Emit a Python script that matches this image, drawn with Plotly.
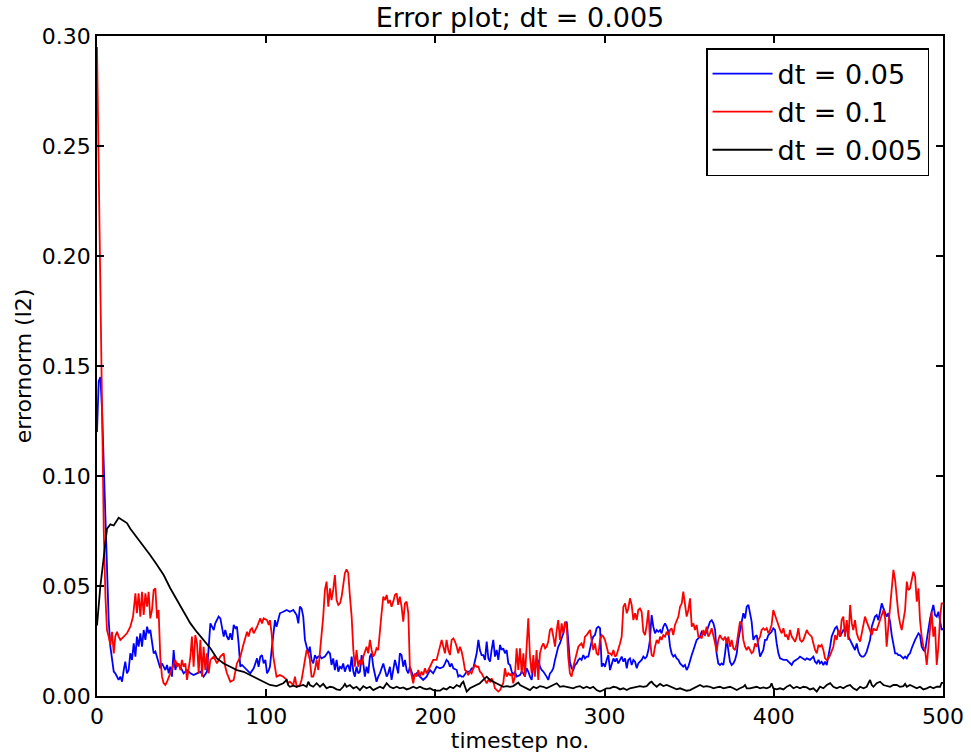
import plotly.graph_objects as go

# ---- data: [timestep, errornorm] ----
blue_pts = [
    (0, 0.120), (1, 0.143), (2, 0.145), (3, 0.130), (4, 0.105), (5, 0.080), (6, 0.052),
    (6.9, 0.0345), (7.9, 0.0224), (8.9, 0.0164), (9.9, 0.0111), (10.8, 0.0103), (11.8, 0.0088),
    (12.8, 0.0073), (13.8, 0.0088), (14.8, 0.0065), (15.8, 0.0118), (16.7, 0.0156), (17.7, 0.0103),
    (18.7, 0.0118), (19.7, 0.0194), (20.7, 0.0164), (21.7, 0.0239), (22.7, 0.0179), (23.6, 0.0270),
    (24.6, 0.0224), (25.6, 0.0285), (26.6, 0.0224), (27.6, 0.0300), (28.6, 0.0255), (29.6, 0.0315),
    (30.5, 0.0285), (31.5, 0.0300), (32.5, 0.0255), (33.5, 0.0194), (34.5, 0.0202), (35.5, 0.0179),
    (36.4, 0.0148), (37.4, 0.0126), (38.4, 0.0148), (39.4, 0.0133), (40.4, 0.0118), (41.4, 0.0141),
    (42.4, 0.0103), (43.3, 0.0133), (44.3, 0.0088), (45.3, 0.0209), (46.3, 0.0118), (47.3, 0.0148),
    (49.3, 0.0133), (51.2, 0.0103), (53.2, 0.0118), (55.2, 0.0103), (57.1, 0.0095), (59.1, 0.0103),
    (61.1, 0.0111), (63.0, 0.0088), (65.0, 0.0111), (67.0, 0.0330), (68.0, 0.0315), (69.0, 0.0300),
    (69.9, 0.0330), (70.9, 0.0345), (71.9, 0.0361), (72.9, 0.0353), (73.9, 0.0300), (74.9, 0.0270),
    (75.8, 0.0300), (76.8, 0.0270), (77.8, 0.0255), (78.8, 0.0285), (79.8, 0.0255), (80.8, 0.0323),
    (81.8, 0.0308), (82.7, 0.0315), (83.7, 0.0239), (84.7, 0.0133), (85.7, 0.0141), (86.7, 0.0133),
    (88.7, 0.0118), (90.6, 0.0103), (92.6, 0.0126), (93.6, 0.0148), (94.6, 0.0171), (95.5, 0.0133),
    (96.5, 0.0179), (97.5, 0.0186), (98.5, 0.0148), (99.5, 0.0164), (100.5, 0.0103), (101.5, 0.0118),
    (102.2, 0.0133), (103.2, 0.0209), (104.2, 0.0285), (105.2, 0.0345), (106.1, 0.0315), (108.1, 0.0376),
    (110.1, 0.0383), (112.1, 0.0391), (114.0, 0.0383), (116.0, 0.0391), (118.0, 0.0368), (119.0, 0.0330),
    (119.9, 0.0406), (120.9, 0.0398), (121.9, 0.0361), (122.9, 0.0255), (123.9, 0.0224), (124.9, 0.0194),
    (125.8, 0.0224), (126.8, 0.0164), (127.8, 0.0148), (128.8, 0.0186), (129.8, 0.0171), (130.8, 0.0179),
    (131.8, 0.0182), (132.7, 0.0171), (134.7, 0.0179), (136.7, 0.0202), (137.7, 0.0194), (138.6, 0.0141),
    (139.6, 0.0171), (140.6, 0.0118), (141.6, 0.0164), (142.6, 0.0111), (143.6, 0.0133), (144.6, 0.0126),
    (145.5, 0.0148), (146.5, 0.0111), (147.5, 0.0133), (148.5, 0.0141), (149.5, 0.0111), (150.5, 0.0179),
    (151.5, 0.0111), (152.4, 0.0088), (153.4, 0.0133), (154.4, 0.0103), (155.4, 0.0111), (156.4, 0.0186),
    (157.4, 0.0148), (158.3, 0.0088), (159.3, 0.0133), (160.3, 0.0103), (161.3, 0.0179), (162.3, 0.0194),
    (163.3, 0.0133), (164.3, 0.0088), (165.2, 0.0065), (166.2, 0.0088), (167.2, 0.0103), (169.2, 0.0148),
    (170.2, 0.0118), (171.2, 0.0088), (172.1, 0.0103), (173.1, 0.0133), (174.1, 0.0073), (175.1, 0.0111),
    (176.1, 0.0164), (177.1, 0.0133), (178.0, 0.0103), (179.0, 0.0194), (180.0, 0.0186), (181.0, 0.0133),
    (182.0, 0.0164), (183.0, 0.0118), (184.0, 0.0103), (184.9, 0.0133), (186.9, 0.0088), (188.9, 0.0103),
    (190.9, 0.0088), (192.8, 0.0073), (194.8, 0.0088), (196.8, 0.0118), (198.7, 0.0103), (200.7, 0.0133),
    (202.7, 0.0126), (204.7, 0.0133), (205.7, 0.0148), (206.6, 0.0164), (207.6, 0.0156), (208.6, 0.0133),
    (209.6, 0.0148), (210.6, 0.0126), (212.6, 0.0118), (213.5, 0.0088), (214.5, 0.0095), (215.5, 0.0088),
    (216.5, 0.0088), (217.5, 0.0103), (218.5, 0.0111), (220.4, 0.0111), (221.4, 0.0126), (222.4, 0.0126),
    (223.4, 0.0164), (224.4, 0.0194), (225.4, 0.0255), (226.3, 0.0209), (227.3, 0.0186), (228.3, 0.0186),
    (229.3, 0.0164), (230.3, 0.0247), (231.3, 0.0171), (232.3, 0.0156), (233.2, 0.0209), (234.2, 0.0255),
    (235.2, 0.0179), (236.2, 0.0209), (237.2, 0.0164), (238.2, 0.0232), (239.2, 0.0209), (240.1, 0.0217),
    (241.1, 0.0194), (242.1, 0.0209), (243.1, 0.0148), (244.1, 0.0141), (245.1, 0.0111), (246.0, 0.0095),
    (247.0, 0.0111), (248.0, 0.0088), (250.0, 0.0095), (251.0, 0.0111), (252.0, 0.0103), (252.9, 0.0088),
    (253.9, 0.0126), (254.9, 0.0111), (255.9, 0.0088), (256.9, 0.0073), (257.9, 0.0141), (258.8, 0.0118),
    (259.8, 0.0148), (260.8, 0.0164), (261.8, 0.0133), (262.8, 0.0118), (263.8, 0.0111), (264.8, 0.0095),
    (265.7, 0.0088), (266.7, 0.0073), (267.7, 0.0103), (268.7, 0.0111), (269.7, 0.0126), (270.7, 0.0164),
    (271.7, 0.0194), (272.6, 0.0224), (273.6, 0.0239), (274.6, 0.0262), (275.6, 0.0285), (276.6, 0.0323),
    (277.6, 0.0338), (278.5, 0.0255), (279.5, 0.0156), (280.5, 0.0126), (281.5, 0.0118), (282.5, 0.0141),
    (283.5, 0.0148), (284.5, 0.0164), (285.4, 0.0171), (286.4, 0.0164), (287.4, 0.0186), (288.4, 0.0171),
    (289.4, 0.0179), (290.4, 0.0179), (291.4, 0.0224), (292.3, 0.0247), (293.3, 0.0270), (294.3, 0.0277),
    (295.3, 0.0308), (296.3, 0.0315), (297.3, 0.0308), (298.3, 0.0133), (299.2, 0.0148), (300.2, 0.0133),
    (301.2, 0.0164), (302.2, 0.0186),
    (303.2, 0.0118), (304.2, 0.0148), (305.2, 0.0171), (306.2, 0.0156), (307.1, 0.0171), (308.1, 0.0148),
    (309.1, 0.0164), (310.1, 0.0179), (311.1, 0.0156), (312.1, 0.0171), (313.1, 0.0126), (314.0, 0.0164),
    (315.0, 0.0171), (316.0, 0.0141), (317.0, 0.0164), (318.0, 0.0156), (319.0, 0.0126), (319.9, 0.0148),
    (320.9, 0.0156), (321.9, 0.0164), (322.9, 0.0179), (323.9, 0.0171), (324.9, 0.0179), (325.9, 0.0209),
    (326.8, 0.0255), (327.8, 0.0368), (328.8, 0.0315), (329.8, 0.0285), (330.8, 0.0300), (331.8, 0.0292),
    (332.8, 0.0300), (333.7, 0.0285), (334.7, 0.0315), (335.7, 0.0330), (336.7, 0.0315), (337.7, 0.0292),
    (338.7, 0.0224), (339.6, 0.0194), (340.6, 0.0179), (341.6, 0.0186), (342.6, 0.0171), (343.6, 0.0164),
    (344.6, 0.0148), (345.6, 0.0141), (346.5, 0.0133), (347.5, 0.0141), (348.5, 0.0118), (349.5, 0.0133),
    (350.5, 0.0164), (351.5, 0.0186), (352.5, 0.0209), (353.4, 0.0232), (354.4, 0.0255), (355.4, 0.0262),
    (356.4, 0.0270), (357.4, 0.0292), (358.4, 0.0285), (359.3, 0.0277), (360.3, 0.0292), (361.3, 0.0315),
    (362.3, 0.0338), (363.3, 0.0345), (364.3, 0.0330), (365.3, 0.0300), (366.2, 0.0194), (367.2, 0.0148),
    (368.2, 0.0141), (369.2, 0.0148), (370.2, 0.0141), (371.2, 0.0194), (372.2, 0.0262), (373.1, 0.0209),
    (374.1, 0.0156), (375.1, 0.0141), (376.1, 0.0148), (377.1, 0.0164), (378.1, 0.0194), (379.0, 0.0255),
    (380.0, 0.0300), (381.0, 0.0330), (382.0, 0.0376), (383.0, 0.0353), (384.0, 0.0406), (385.0, 0.0414),
    (385.9, 0.0383), (386.9, 0.0338), (387.9, 0.0255), (388.9, 0.0270), (389.9, 0.0277), (390.9, 0.0217),
    (391.9, 0.0179), (392.8, 0.0194), (393.8, 0.0209), (394.8, 0.0255), (395.8, 0.0255), (396.8, 0.0277),
    (397.8, 0.0285), (398.7, 0.0292), (399.7, 0.0308), (400.7, 0.0300), (401.7, 0.0239), (402.7, 0.0194),
    (403.7, 0.0171), (405.7, 0.0164), (407.6, 0.0164), (409.6, 0.0148), (410.6, 0.0141), (411.6, 0.0156),
    (413.6, 0.0164), (414.5, 0.0171), (415.5, 0.0179), (417.5, 0.0171), (418.5, 0.0164), (419.5, 0.0171),
    (421.4, 0.0164), (423.4, 0.0179), (424.4, 0.0156), (425.4, 0.0148), (426.4, 0.0164), (427.3, 0.0148),
    (428.3, 0.0156), (429.3, 0.0141), (430.3, 0.0156), (431.3, 0.0141), (432.3, 0.0179), (433.3, 0.0224),
    (434.2, 0.0270), (435.2, 0.0292), (436.2, 0.0308), (437.2, 0.0315), (438.2, 0.0292), (439.2, 0.0270),
    (440.1, 0.0285), (441.1, 0.0300), (442.1, 0.0292), (443.1, 0.0315), (444.1, 0.0270), (445.1, 0.0255),
    (446.1, 0.0239), (447.0, 0.0224), (448.0, 0.0209), (449.0, 0.0239), (450.0, 0.0202), (451.0, 0.0186),
    (452.0, 0.0179), (453.0, 0.0179), (453.9, 0.0186), (454.9, 0.0202), (455.9, 0.0232), (456.9, 0.0255),
    (457.9, 0.0315), (458.9, 0.0345), (459.8, 0.0361), (460.8, 0.0368), (461.8, 0.0345), (462.8, 0.0383),
    (463.8, 0.0421), (464.8, 0.0398), (465.8, 0.0376), (466.7, 0.0361), (467.7, 0.0376), (468.7, 0.0338),
    (469.7, 0.0277), (470.7, 0.0224), (471.7, 0.0194), (472.7, 0.0194), (473.6, 0.0186), (474.6, 0.0186),
    (475.6, 0.0179), (476.6, 0.0171), (477.6, 0.0179), (478.6, 0.0171), (479.5, 0.0186), (480.5, 0.0194),
    (481.5, 0.0217), (482.5, 0.0239), (483.5, 0.0255), (484.5, 0.0270), (485.5, 0.0285), (486.4, 0.0277),
    (487.4, 0.0224), (488.4, 0.0209), (489.4, 0.0202), (490.4, 0.0255), (491.4, 0.0315), (492.4, 0.0353),
    (493.3, 0.0383), (494.3, 0.0414), (495.3, 0.0368), (496.3, 0.0361), (497.3, 0.0383), (498.3, 0.0330),
    (499.2, 0.0300), (500.0, 0.0308),
]

red_pts = [
    (0, 0.295), (1, 0.240), (2, 0.170), (3, 0.110), (4, 0.075), (5, 0.045),
    (5.9, 0.0300), (6.9, 0.0270), (7.9, 0.0232), (8.9, 0.0292), (9.9, 0.0194), (10.8, 0.0270),
    (11.8, 0.0292), (12.8, 0.0270), (13.8, 0.0255), (15.8, 0.0270), (17.7, 0.0285), (19.7, 0.0315),
    (21.3, 0.0361), (22.7, 0.0467), (23.6, 0.0376), (24.6, 0.0467), (25.6, 0.0361), (26.6, 0.0474),
    (27.6, 0.0368), (28.6, 0.0467), (29.6, 0.0406), (30.5, 0.0474), (31.5, 0.0353), (32.5, 0.0391),
    (33.5, 0.0482), (34.5, 0.0489), (35.5, 0.0353), (36.4, 0.0391), (37.4, 0.0179), (38.4, 0.0088),
    (39.4, 0.0058), (40.4, 0.0050), (41.4, 0.0065), (43.3, 0.0103), (45.3, 0.0141), (46.3, 0.0164),
    (47.3, 0.0133), (48.3, 0.0148), (49.3, 0.0118), (50.2, 0.0164), (51.2, 0.0133), (52.2, 0.0148),
    (53.2, 0.0073), (54.2, 0.0133), (55.2, 0.0179), (56.1, 0.0270), (57.1, 0.0133), (58.1, 0.0277),
    (59.1, 0.0239), (60.1, 0.0103), (61.1, 0.0255), (62.1, 0.0088), (63.0, 0.0224), (64.0, 0.0118),
    (65.0, 0.0194), (66.0, 0.0103), (67.0, 0.0164), (69.0, 0.0179), (70.9, 0.0148), (72.9, 0.0179),
    (74.9, 0.0194), (75.8, 0.0133), (76.8, 0.0103), (78.8, 0.0065), (80.8, 0.0073), (82.7, 0.0148),
    (84.7, 0.0179), (86.7, 0.0239), (88.7, 0.0292), (89.6, 0.0270), (90.6, 0.0300), (91.6, 0.0308),
    (92.6, 0.0285), (94.6, 0.0315), (96.5, 0.0353), (97.5, 0.0330), (98.5, 0.0353), (100.5, 0.0345),
    (101.5, 0.0323),
    (102.2, 0.0345), (103.2, 0.0285), (104.2, 0.0179), (105.2, 0.0118), (106.1, 0.0088), (108.1, 0.0095),
    (110.1, 0.0088), (112.1, 0.0073), (113.0, 0.0058), (114.0, 0.0065), (116.0, 0.0050), (117.0, 0.0088),
    (118.0, 0.0042), (119.9, 0.0050), (120.9, 0.0073), (121.9, 0.0118), (122.9, 0.0164), (123.9, 0.0209),
    (124.9, 0.0194), (125.8, 0.0164), (126.8, 0.0088), (127.8, 0.0088), (128.8, 0.0118), (129.8, 0.0164),
    (130.8, 0.0118), (131.8, 0.0194), (132.7, 0.0255), (133.7, 0.0361), (134.7, 0.0482), (135.7, 0.0520),
    (136.7, 0.0406), (137.7, 0.0489), (138.6, 0.0436), (139.6, 0.0482), (140.6, 0.0550), (141.6, 0.0436),
    (142.6, 0.0414), (143.6, 0.0421), (144.6, 0.0452), (145.5, 0.0512), (146.5, 0.0558), (147.5, 0.0576),
    (148.5, 0.0558), (149.5, 0.0452), (150.5, 0.0361), (151.5, 0.0209), (152.4, 0.0133), (153.4, 0.0209),
    (154.4, 0.0133), (155.4, 0.0164), (156.4, 0.0141), (157.4, 0.0179), (159.3, 0.0224), (160.3, 0.0194),
    (161.3, 0.0255), (162.3, 0.0209), (163.3, 0.0179), (164.3, 0.0194), (165.2, 0.0217), (166.2, 0.0209),
    (167.2, 0.0315), (168.2, 0.0376), (169.2, 0.0452), (170.2, 0.0436), (171.2, 0.0459), (172.1, 0.0421),
    (173.1, 0.0436), (174.1, 0.0406), (175.1, 0.0429), (176.1, 0.0459), (177.1, 0.0467), (178.0, 0.0414),
    (179.0, 0.0452), (180.0, 0.0406), (181.0, 0.0338), (182.0, 0.0421), (183.0, 0.0429), (184.0, 0.0376),
    (184.9, 0.0133), (185.9, 0.0088), (186.9, 0.0058), (187.9, 0.0103), (188.9, 0.0088), (189.9, 0.0118),
    (190.9, 0.0088), (191.8, 0.0111), (192.8, 0.0095), (193.8, 0.0126), (194.8, 0.0103), (196.8, 0.0133),
    (197.7, 0.0148), (198.7, 0.0164), (200.7, 0.0164), (201.7, 0.0194),
    (202.7, 0.0224), (203.7, 0.0255), (204.7, 0.0224), (205.7, 0.0194), (206.6, 0.0255), (207.6, 0.0209),
    (208.6, 0.0186), (209.6, 0.0255), (210.6, 0.0262), (211.6, 0.0247), (212.6, 0.0224), (213.5, 0.0194),
    (214.5, 0.0224), (215.5, 0.0202), (216.5, 0.0164), (217.5, 0.0118), (218.5, 0.0111), (219.4, 0.0095),
    (220.4, 0.0111), (221.4, 0.0103), (222.4, 0.0126), (223.4, 0.0141), (224.4, 0.0133), (225.4, 0.0133),
    (226.3, 0.0111), (227.3, 0.0103), (228.3, 0.0088), (229.3, 0.0073), (230.3, 0.0058), (231.3, 0.0073),
    (232.3, 0.0065), (233.2, 0.0080), (234.2, 0.0065), (235.2, 0.0035), (236.2, 0.0027), (237.2, 0.0020),
    (238.2, 0.0027), (239.2, 0.0042), (240.1, 0.0058), (241.1, 0.0126), (242.1, 0.0088), (243.1, 0.0103),
    (244.1, 0.0095), (245.1, 0.0103), (246.0, 0.0058), (247.0, 0.0088), (248.0, 0.0217), (249.0, 0.0118),
    (250.0, 0.0217), (251.0, 0.0103), (252.0, 0.0194), (252.9, 0.0088), (253.9, 0.0255), (254.9, 0.0353),
    (255.9, 0.0179), (256.9, 0.0103), (257.9, 0.0186), (258.8, 0.0088), (259.8, 0.0209), (260.8, 0.0073),
    (261.8, 0.0194), (262.8, 0.0224), (263.8, 0.0239), (264.8, 0.0217), (265.7, 0.0224), (266.7, 0.0247),
    (267.7, 0.0300), (268.7, 0.0308), (269.7, 0.0270), (270.7, 0.0224), (271.7, 0.0300), (272.6, 0.0345),
    (273.6, 0.0255), (274.6, 0.0330), (275.6, 0.0285), (276.6, 0.0338), (277.6, 0.0315), (278.5, 0.0179),
    (279.5, 0.0103), (280.5, 0.0088), (281.5, 0.0133), (282.5, 0.0164), (283.5, 0.0194), (284.5, 0.0224),
    (285.4, 0.0232), (286.4, 0.0239), (287.4, 0.0217), (288.4, 0.0270), (289.4, 0.0277), (290.4, 0.0292),
    (291.4, 0.0300), (292.3, 0.0255), (293.3, 0.0209), (294.3, 0.0239), (295.3, 0.0194), (296.3, 0.0186),
    (297.3, 0.0255), (298.3, 0.0277), (299.2, 0.0270), (300.2, 0.0255), (301.2, 0.0224), (302.2, 0.0194),
    (303.2, 0.0194), (304.2, 0.0186), (305.2, 0.0209), (306.2, 0.0179), (307.1, 0.0186), (308.1, 0.0209),
    (309.1, 0.0239), (310.1, 0.0270), (311.1, 0.0406), (312.1, 0.0421), (313.1, 0.0376), (314.0, 0.0398),
    (315.0, 0.0444), (316.0, 0.0414), (317.0, 0.0345), (318.0, 0.0376), (319.0, 0.0345), (319.9, 0.0391),
    (320.9, 0.0398), (321.9, 0.0383), (322.9, 0.0292), (323.9, 0.0277), (324.9, 0.0323), (325.9, 0.0391),
    (326.8, 0.0255), (327.8, 0.0186), (328.8, 0.0179), (329.8, 0.0224), (330.8, 0.0255), (331.8, 0.0239),
    (332.8, 0.0270), (333.7, 0.0255), (334.7, 0.0277), (335.7, 0.0270), (336.7, 0.0292), (337.7, 0.0277),
    (338.7, 0.0300), (339.6, 0.0308), (340.6, 0.0277), (341.6, 0.0323), (342.6, 0.0345), (343.6, 0.0361),
    (344.6, 0.0406), (345.6, 0.0421), (346.5, 0.0474), (347.5, 0.0406), (348.5, 0.0361), (349.5, 0.0391),
    (350.5, 0.0444), (351.5, 0.0315), (352.5, 0.0330), (353.4, 0.0300), (354.4, 0.0323), (355.4, 0.0270),
    (356.4, 0.0270), (357.4, 0.0262), (358.4, 0.0300), (359.3, 0.0277), (360.3, 0.0315), (361.3, 0.0270),
    (362.3, 0.0285), (363.3, 0.0308), (364.3, 0.0277), (365.3, 0.0239), (366.2, 0.0202), (367.2, 0.0255),
    (368.2, 0.0277), (369.2, 0.0262), (370.2, 0.0255), (371.2, 0.0270), (372.2, 0.0239), (373.1, 0.0270),
    (374.1, 0.0224), (375.1, 0.0255), (376.1, 0.0217), (377.1, 0.0209), (378.1, 0.0239), (379.0, 0.0285),
    (380.0, 0.0338), (381.0, 0.0330), (382.0, 0.0255), (383.0, 0.0224), (384.0, 0.0209), (385.0, 0.0224),
    (385.9, 0.0209), (386.9, 0.0194), (387.9, 0.0202), (388.9, 0.0239), (389.9, 0.0224), (390.9, 0.0255),
    (391.9, 0.0270), (392.8, 0.0300), (393.8, 0.0308), (394.8, 0.0300), (395.8, 0.0308), (396.8, 0.0285),
    (397.8, 0.0300), (398.7, 0.0323), (399.7, 0.0391), (400.7, 0.0368), (401.7, 0.0345), (402.7, 0.0315),
    (403.7, 0.0300), (404.7, 0.0285), (405.7, 0.0308), (406.7, 0.0270), (407.6, 0.0277), (408.6, 0.0255),
    (409.6, 0.0300), (410.6, 0.0270), (411.6, 0.0255), (412.6, 0.0247), (413.6, 0.0270), (414.5, 0.0308),
    (415.5, 0.0255), (416.5, 0.0247), (417.5, 0.0255), (418.5, 0.0277), (419.5, 0.0300), (420.4, 0.0285),
    (421.4, 0.0277), (422.4, 0.0270), (423.4, 0.0239), (424.4, 0.0209), (425.4, 0.0194), (426.4, 0.0232),
    (427.3, 0.0224), (428.3, 0.0232), (429.3, 0.0209), (430.3, 0.0171), (431.3, 0.0164), (432.3, 0.0171),
    (433.3, 0.0186), (434.2, 0.0209), (435.2, 0.0224), (436.2, 0.0277), (437.2, 0.0255), (438.2, 0.0300),
    (439.2, 0.0270), (440.1, 0.0345), (441.1, 0.0361), (442.1, 0.0270), (443.1, 0.0345), (444.1, 0.0255),
    (445.1, 0.0414), (446.1, 0.0330), (447.0, 0.0300), (448.0, 0.0345), (449.0, 0.0285), (450.0, 0.0262),
    (451.0, 0.0247), (452.0, 0.0285), (453.0, 0.0323), (453.9, 0.0361), (454.9, 0.0338), (455.9, 0.0315),
    (456.9, 0.0300), (457.9, 0.0277), (458.9, 0.0308), (459.8, 0.0300), (460.8, 0.0300), (461.8, 0.0323),
    (462.8, 0.0345), (463.8, 0.0376), (464.8, 0.0391), (465.8, 0.0353), (466.7, 0.0224), (467.7, 0.0315),
    (468.7, 0.0406), (469.7, 0.0497), (470.7, 0.0573), (471.7, 0.0527), (472.7, 0.0436), (473.6, 0.0376),
    (474.6, 0.0330), (475.6, 0.0300), (476.6, 0.0345), (477.6, 0.0391), (478.6, 0.0520), (479.5, 0.0482),
    (480.5, 0.0489), (481.5, 0.0520), (482.5, 0.0565), (483.5, 0.0542), (484.5, 0.0429), (485.5, 0.0489),
    (486.4, 0.0345), (487.4, 0.0270), (488.4, 0.0224), (489.4, 0.0209), (490.4, 0.0141), (491.4, 0.0224),
    (492.4, 0.0330), (493.3, 0.0383), (494.3, 0.0270), (495.3, 0.0315), (496.3, 0.0141), (497.3, 0.0224),
    (498.3, 0.0361), (499.2, 0.0421), (500.0, 0.0421),
]

black_pts = [
    (0, 0.032), (2, 0.050), (4, 0.063), (5.9, 0.076), (7.9, 0.078), (9.9, 0.0775), (12.8, 0.081),
    (14.8, 0.080), (17.7, 0.0786), (19.7, 0.076), (22.7, 0.073), (24.6, 0.071), (27.6, 0.068),
    (31.5, 0.064), (35.5, 0.0595), (39.4, 0.055), (43.3, 0.049), (47.3, 0.0436), (51.2, 0.039),
    (55.2, 0.033), (59.1, 0.029), (63.0, 0.0255), (67.0, 0.0217), (70.9, 0.0171), (74.9, 0.0148),
    (78.8, 0.0133), (82.7, 0.0118), (86.7, 0.0110), (90.6, 0.0095), (94.6, 0.0080), (98.5, 0.0065),
    (102.2, 0.0050), (106.1, 0.0045), (110.1, 0.0058), (112.1, 0.0073), (113.0, 0.0050), (114.0, 0.0042),
    (116.0, 0.0047), (118.0, 0.0042), (119.9, 0.0045), (121.9, 0.0050), (123.9, 0.0042), (124.9, 0.0065),
    (125.8, 0.0050), (127.8, 0.0042), (129.8, 0.0058), (131.8, 0.0042), (133.7, 0.0055), (135.7, 0.0035),
    (137.7, 0.0042), (139.6, 0.0039), (141.6, 0.0030), (143.6, 0.0027), (145.5, 0.0042), (146.5, 0.0055),
    (147.5, 0.0042), (149.5, 0.0050), (151.5, 0.0035), (153.4, 0.0042), (155.4, 0.0027), (157.4, 0.0045),
    (159.3, 0.0035), (161.3, 0.0042), (163.3, 0.0027), (165.2, 0.0035), (167.2, 0.0042), (169.2, 0.0035),
    (171.2, 0.0058), (173.1, 0.0042), (175.1, 0.0035), (177.1, 0.0042), (179.0, 0.0035), (181.0, 0.0039),
    (183.0, 0.0030), (184.9, 0.0035), (186.9, 0.0042), (188.9, 0.0035), (190.9, 0.0042), (192.8, 0.0035),
    (194.8, 0.0030), (196.8, 0.0035), (198.7, 0.0027), (200.7, 0.0024),
    (202.7, 0.0024), (204.7, 0.0035), (206.6, 0.0030), (208.6, 0.0042), (210.6, 0.0035), (212.6, 0.0050),
    (214.5, 0.0042), (215.5, 0.0058), (216.5, 0.0065), (217.5, 0.0042), (218.5, 0.0020), (220.4, 0.0035),
    (222.4, 0.0042), (224.4, 0.0050), (226.3, 0.0058), (228.3, 0.0073), (230.3, 0.0088), (232.3, 0.0073),
    (234.2, 0.0065), (236.2, 0.0058), (238.2, 0.0050), (240.1, 0.0042), (242.1, 0.0045), (244.1, 0.0042),
    (246.0, 0.0045), (248.0, 0.0058), (249.0, 0.0061), (250.0, 0.0050), (252.0, 0.0042), (253.9, 0.0035),
    (255.9, 0.0027), (257.9, 0.0042), (259.8, 0.0035), (261.8, 0.0045), (263.8, 0.0042), (265.7, 0.0035),
    (267.7, 0.0042), (269.7, 0.0050), (271.7, 0.0058), (273.6, 0.0042), (275.6, 0.0045), (277.6, 0.0042),
    (279.5, 0.0039), (281.5, 0.0035), (283.5, 0.0042), (285.4, 0.0045), (287.4, 0.0035), (289.4, 0.0042),
    (291.4, 0.0035), (293.3, 0.0042), (295.3, 0.0027), (297.3, 0.0020), (299.2, 0.0027), (301.2, 0.0035),
    (303.2, 0.0035), (305.2, 0.0042), (307.1, 0.0039), (309.1, 0.0030), (311.1, 0.0035), (313.1, 0.0027),
    (315.0, 0.0035), (317.0, 0.0039), (319.0, 0.0042), (320.9, 0.0045), (322.9, 0.0042), (324.9, 0.0045),
    (326.8, 0.0061), (327.8, 0.0065), (328.8, 0.0055), (330.8, 0.0042), (332.8, 0.0055), (334.7, 0.0045),
    (336.7, 0.0050), (338.7, 0.0042), (340.6, 0.0035), (342.6, 0.0030), (344.6, 0.0035), (346.5, 0.0030),
    (348.5, 0.0024), (350.5, 0.0027), (352.5, 0.0035), (354.4, 0.0042), (356.4, 0.0050), (358.4, 0.0042),
    (360.3, 0.0045), (362.3, 0.0042), (364.3, 0.0035), (366.2, 0.0039), (368.2, 0.0042), (370.2, 0.0035),
    (372.2, 0.0039), (374.1, 0.0042), (376.1, 0.0035), (378.1, 0.0027), (380.0, 0.0035), (382.0, 0.0042),
    (383.0, 0.0050), (384.0, 0.0035), (385.9, 0.0035), (387.9, 0.0039), (389.9, 0.0042), (391.9, 0.0035),
    (393.8, 0.0039), (395.8, 0.0035), (397.8, 0.0042), (398.7, 0.0058), (399.7, 0.0035), (401.7, 0.0030),
    (403.7, 0.0035), (405.7, 0.0030), (407.6, 0.0042), (409.6, 0.0050), (411.6, 0.0035), (413.6, 0.0042),
    (415.5, 0.0035), (417.5, 0.0042), (419.5, 0.0039), (421.4, 0.0030), (423.4, 0.0035), (425.4, 0.0020),
    (427.3, 0.0042), (429.3, 0.0035), (431.3, 0.0050), (433.3, 0.0058), (435.2, 0.0042), (437.2, 0.0035),
    (439.2, 0.0042), (441.1, 0.0035), (443.1, 0.0045), (445.1, 0.0050), (447.0, 0.0035), (449.0, 0.0027),
    (451.0, 0.0042), (453.0, 0.0035), (454.9, 0.0042), (455.9, 0.0058), (456.9, 0.0073), (457.9, 0.0050),
    (458.9, 0.0042), (460.8, 0.0058), (462.8, 0.0065), (464.8, 0.0050), (466.7, 0.0045), (468.7, 0.0042),
    (470.7, 0.0050), (472.7, 0.0050), (474.6, 0.0042), (476.6, 0.0045), (477.6, 0.0055), (478.6, 0.0042),
    (480.5, 0.0050), (482.5, 0.0042), (484.5, 0.0035), (486.4, 0.0042), (488.4, 0.0030), (490.4, 0.0035),
    (492.4, 0.0042), (494.3, 0.0035), (496.3, 0.0042), (498.3, 0.0042), (499.2, 0.0060), (500.0, 0.0060),
]

series_names = ["dt = 0.05", "dt = 0.1", "dt = 0.005"]
series_colors = ["#0000ff", "#ff0000", "#000000"]
x_ticks = [0, 100, 200, 300, 400, 500]
y_ticks = [0.00, 0.05, 0.10, 0.15, 0.20, 0.25, 0.30]

FONT = "DejaVu Sans, Bitstream Vera Sans, sans-serif"

fig = go.Figure()
for pts, name, color in zip([blue_pts, red_pts, black_pts], series_names, series_colors):
    fig.add_trace(go.Scatter(
        x=[p[0] for p in pts], y=[p[1] for p in pts],
        mode="lines", name=name,
        line=dict(color=color, width=1.8),
    ))

axis_common = dict(
    showline=True, linecolor="black", linewidth=1.5, mirror="ticks",
    ticks="inside", ticklen=7, tickwidth=1.5, tickcolor="black",
    showgrid=False, zeroline=False, automargin=False,
    tickfont=dict(family=FONT, size=22, color="black"),
)

fig.update_layout(
    width=971, height=753,
    margin=dict(l=97, r=28, t=36, b=57, autoexpand=False),
    paper_bgcolor="white", plot_bgcolor="white",
    font=dict(family=FONT, size=22, color="black"),
    title=dict(text="Error plot; dt = 0.005", x=0.5, xref="paper", xanchor="center",
               y=1 - 18 / 753, yref="container", yanchor="middle",
               font=dict(family=FONT, size=27, color="black")),
    xaxis=dict(range=[0, 500], tickvals=x_ticks, ticktext=[str(v) for v in x_ticks],
               title=dict(text="timestep no.", font=dict(family=FONT, size=22), standoff=2),
               **axis_common),
    yaxis=dict(range=[0, 0.30], tickvals=y_ticks, ticktext=[f"{v:.2f}" for v in y_ticks],
               title=dict(text="errornorm (l2)", font=dict(family=FONT, size=22), standoff=4),
               **axis_common),
    legend=dict(x=0.9835, xanchor="right", y=0.9818, yanchor="top",
                bordercolor="black", borderwidth=1.5, bgcolor="white",
                font=dict(family=FONT, size=27, color="black"),
                itemwidth=60),
    showlegend=True,
)

fig.write_html("out.html")
